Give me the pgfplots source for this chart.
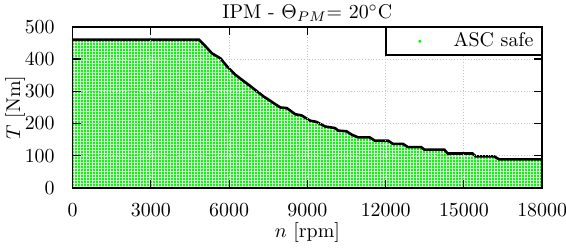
\documentclass[border=0pt]{standalone}
\usepackage{pgfplots}
\pgfplotsset{compat=1.18}
\usetikzlibrary{patterns.meta}
\tikzdeclarepattern{
  name=dotgrid,
  type=colored,
  bottom left={(0pt,0pt)},
  top right={(1.5pt,1.5pt)},
  tile size={(1.5pt,1.5pt)},
  code={
    \fill[white] (0pt,0pt) rectangle (0.45pt,1.5pt);
    \fill[white] (0pt,0pt) rectangle (1.5pt,0.3pt);
  }
}
\pgfplotstableread{
x y
0 460
4844 460
5034 445
5339 418
5671 402
5923 377
6243 351
6751 320
7323 284
7960 250
8211 248
8532 229
8783 225
9104 209
9355 205
9676 191
10057 186
10183 178
10500 176
10690 166
10946 157
11392 157
11583 147
12090 147
12281 137
12662 137
12853 127
13360 127
13490 119
14252 119
14378 107
15332 107
15458 98
16159 98
16350 89
18000 89
}\boundary
\begin{document}
\begin{tikzpicture}
\begin{axis}[
  scale only axis, width=236pt, height=81pt,
  xmin=0, xmax=18000, ymin=0, ymax=500,
  xtick={0,3000,...,18000}, ytick={0,100,...,500},
  scaled x ticks=false,
  xticklabel style={/pgf/number format/1000 sep={}, yshift=-4.5pt},
  yticklabel style={xshift=-5.5pt},
  grid=major, major grid style={densely dotted, gray!45, line width=0.5pt},
  axis line style={line width=0.8pt},
  tick style={black, line width=0.6pt},
  axis on top,
  title={IPM - $\Theta_{PM}$= 20$^\circ$C},
  title style={at={(0.5,1)}, anchor=south, yshift=-7pt},
  xlabel={$n$ [rpm]}, ylabel={$T$ [Nm]},
  xlabel style={yshift=4pt},
  ylabel style={yshift=-7pt},
  legend style={at={(1,1)}, anchor=north east, draw=black, line width=0.8pt,
    inner xsep=2pt, inner ysep=0.5pt, fill=white},
]
\addplot[fill=green, draw=none, forget plot] table[x=x,y=y] {\boundary} \closedcycle;
\addplot[pattern=dotgrid, draw=none, forget plot] table[x=x,y=y] {\boundary} \closedcycle;
\addplot[black, line width=1.3pt, forget plot] table[x=x,y=y] {\boundary};
\addlegendimage{draw=none, legend image code/.code={\path[draw=none,fill=none] (0pt,0pt) rectangle (30pt,0pt); \fill[green,draw=none] (15pt,0pt) circle (0.9pt);}}
\addlegendentry{ASC safe}
\end{axis}
\pgfresetboundingbox
\path ([xshift=-36.5pt,yshift=-32pt]current axis.south west) rectangle ([xshift=12pt,yshift=13.5pt]current axis.north east);
\end{tikzpicture}
\end{document}
